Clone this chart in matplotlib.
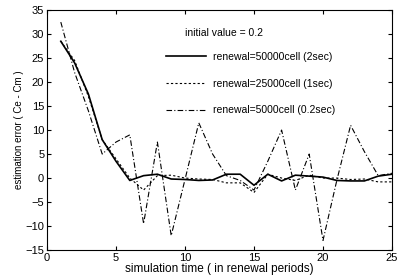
import numpy as np
import matplotlib
matplotlib.use("Agg")
import matplotlib.pyplot as plt

matplotlib.rcParams.update({'font.size': 8, 'font.family': 'Liberation Sans'})

# renewal periods
t = [1, 2, 3, 4, 5, 6, 7, 8, 9, 10, 11, 12, 13, 14, 15, 16, 17, 18, 19, 20, 21, 22, 23, 24, 25]

# estimation error ( Ce - Cm )
err_2sec = [28.5, 24, 17.5, 8, 3.5, -0.5, 0.5, 0.8, -0.2, -0.3, -0.5, -0.4, 0.8, 0.8, -1.5,
            0.8, -0.6, 0.6, 0.4, 0.2, -0.5, -0.6, -0.6, 0.4, 0.8]
err_1sec = [28.5, 24.5, 17, 8, 4, 0, -2.5, 0.5, 0.6, 0, -0.2, -0.3, -1, -1, -3,
            0.8, 0, -0.5, 0.6, 0, 0, -0.3, -0.2, -0.8, -0.8]
err_02sec = [32.5, 22, 14, 5, 7.5, 9, -9.5, 7.5, -12, -0.3, 11.5, 5, 0.5, -0.5, -2.5,
             3.5, 10, -2.5, 5, -13, -0.5, 11, 5.5, 0.5, 1]

fig = plt.figure(figsize=(4, 2.8), dpi=100)
ax = fig.add_axes([0.1175, 0.107, 0.8625, 0.857])

ax.plot(t, err_2sec, "k-", lw=1.2, label="renewal=50000cell (2sec)")
ax.plot(t, err_1sec, "k--", lw=0.8, dashes=(2, 2), label="renewal=25000cell (1sec)")
ax.plot(t, err_02sec, "k-.", lw=0.8, dashes=(5, 2, 1, 2), label="renewal=5000cell (0.2sec)")

ax.set_xlim(0, 25)
ax.set_ylim(-15, 35)
ax.set_xticks([0, 5, 10, 15, 20, 25])
ax.set_yticks([-15, -10, -5, 0, 5, 10, 15, 20, 25, 30, 35])
ax.tick_params(direction="in", top=True, right=True, length=3, pad=2)
ax.set_xlabel("simulation time ( in renewal periods)", fontsize=8.5, labelpad=0)
ax.set_ylabel("estimation error ( Ce - Cm )", fontsize=7, labelpad=1)

ax.text(0.40, 0.905, "initial value = 0.2", transform=ax.transAxes, va="center", fontsize=7.5)
ax.legend(loc="upper left", bbox_to_anchor=(0.345, 0.825), frameon=False, fontsize=7.5,
          handlelength=3.8, handletextpad=0.7, labelspacing=1.6, borderpad=0, borderaxespad=0)

plt.savefig("out.png", dpi=100)
